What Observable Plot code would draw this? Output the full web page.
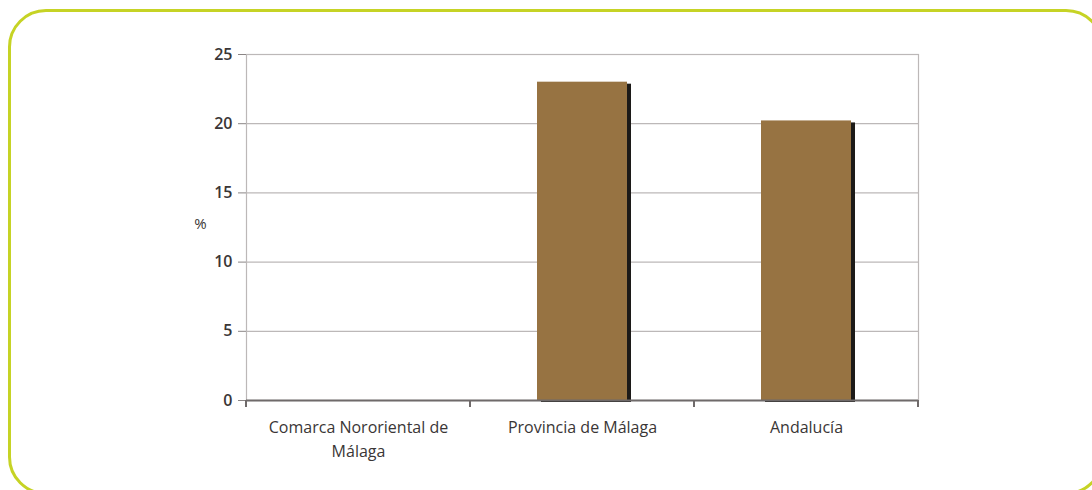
<!DOCTYPE html>
<html>
<head>
<meta charset="utf-8">
<script src="https://cdn.jsdelivr.net/npm/d3@7"></script>
<script src="https://cdn.jsdelivr.net/npm/@observablehq/plot@0.6"></script>
<style>
  html, body { margin: 0; padding: 0; background: #fff; }
  #wrap { position: relative; width: 1092px; height: 490px; overflow: hidden; }
  #box { position: absolute; left: 8px; top: 9px; width: 1096px; height: 486px;
         border: 3px solid #c6d325; border-radius: 38px; box-sizing: border-box; }
  #chart { position: absolute; left: 0; top: 0; }
</style>
</head>
<body>
<div id="wrap"><div id="box"></div><div id="chart"></div></div>
<script>
const categories = ["Comarca Nororiental de Málaga", "Provincia de Málaga", "Andalucía"];
const values = [0, 23.0, 20.2];
const yTicks = [0, 5, 10, 15, 20, 25];
const yLabel = "%";

const data = categories.map((c, i) => ({cat: c, v: values[i]}));
const W = 1092, H = 490;
const mL = 246, mR = 174, mT = 54, mB = 90;
const barInset = 67;
const font = "'Open Sans', sans-serif";

const chart = Plot.plot({
  width: W, height: H,
  marginLeft: mL, marginRight: mR, marginTop: mT, marginBottom: mB,
  style: {fontFamily: font, background: "transparent", overflow: "visible"},
  x: {domain: categories, padding: 0, label: null},
  y: {domain: [0, 25], ticks: yTicks, label: null},
  marks: [
    Plot.gridY(yTicks, {stroke: "#bcb8b8", strokeOpacity: 1, strokeWidth: 1.2}),
    Plot.frame({stroke: "#bcb8b8", strokeWidth: 1.2}),
    Plot.barY(data, {x: "cat", y: "v", fill: "#1c1a18", insetLeft: barInset, insetRight: barInset, dx: 4, dy: 2}),
    Plot.barY(data, {x: "cat", y: "v", fill: "#977342", insetLeft: barInset, insetRight: barInset}),
    Plot.ruleY([0], {stroke: "#6f6a6a", strokeWidth: 2}),
    Plot.axisY(yTicks, {tickSize: 8, tickPadding: 6, stroke: "#8a8585", fontSize: 16, fontWeight: 600, fill: "#3a3636"}),
    Plot.axisX({tickSize: 0, tickPadding: 15, fontSize: 16, fill: "#3a3636", lineHeight: 1.5,
      tickFormat: d => d === categories[0] ? "Comarca Nororiental de\nMálaga" : d}),
    Plot.text([yLabel], {frameAnchor: "left", y: 12.5, dx: -46, dy: -3, text: d => d, fontSize: 15, fill: "#3a3636", textAnchor: "middle"})
  ]
});
document.getElementById("chart").appendChild(chart);

// x-axis tick marks at band boundaries (positions from the x scale)
const xs = chart.scale("x");
const ys = chart.scale("y");
const svg = d3.select(chart);
const edges = categories.map(c => xs.apply(c)).concat([xs.apply(categories[categories.length - 1]) + xs.bandwidth]);
svg.append("g").selectAll("line").data(edges).join("line")
  .attr("x1", d => d).attr("x2", d => d)
  .attr("y1", ys.apply(0)).attr("y2", ys.apply(0) + 7)
  .attr("stroke", "#6f6a6a").attr("stroke-width", 2);
</script>
</body>
</html>
